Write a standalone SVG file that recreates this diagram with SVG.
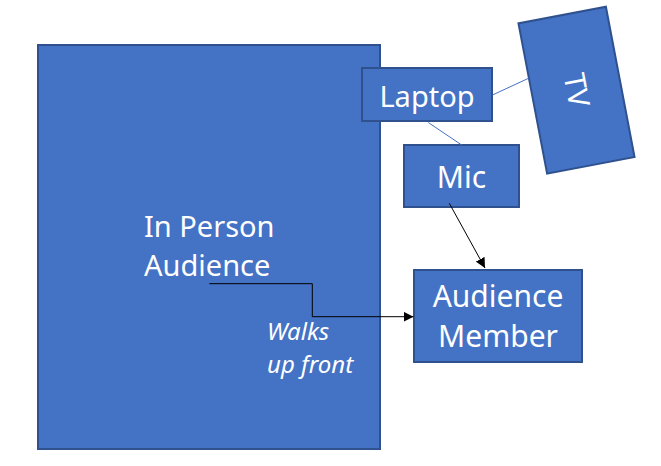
<svg xmlns="http://www.w3.org/2000/svg" width="661" height="466" viewBox="0 0 661 466">
<defs>
<style>
.box{fill:#4472C4;stroke:#2F528F;stroke-width:2}
.t{font-family:"Noto Sans","Open Sans",sans-serif;fill:#fff}
.thin{stroke:#4472C4;stroke-width:1;fill:none}
.arr{stroke:#000;stroke-width:1;fill:none}
</style>
<marker id="ah" viewBox="0 0 10 10" refX="10" refY="5" markerWidth="10" markerHeight="10" markerUnits="userSpaceOnUse" orient="auto">
<path d="M0,0 L10,5 L0,10 z" fill="#000"/>
</marker>
</defs>
<rect width="661" height="466" fill="#fff"/>
<g id="audience">
<rect class="box" x="38" y="45" width="342" height="404"/>
<text class="t" x="144" y="237" font-size="29">In Person</text>
<text class="t" x="144" y="276" font-size="29">Audience</text>
</g>
<g id="laptop">
<rect class="box" x="362" y="68" width="130" height="53"/>
<text class="t" x="427" y="106.5" font-size="29" text-anchor="middle">Laptop</text>
</g>
<g id="tv">
<rect class="box" x="-44.5" y="-76.5" width="89" height="153" transform="translate(576.5,90.2) rotate(-10.8)"/>
<text class="t" font-size="29" text-anchor="middle" transform="translate(576.5,90.2) rotate(79.2)" y="10">TV</text>
</g>
<g id="mic">
<rect class="box" x="404" y="145" width="115" height="62"/>
<text class="t" x="461.5" y="187.5" font-size="30" text-anchor="middle">Mic</text>
</g>
<g id="member">
<rect class="box" x="414" y="270" width="168" height="92"/>
<text class="t" x="498" y="307" font-size="30" text-anchor="middle">Audience</text>
<text class="t" x="498" y="347" font-size="30" text-anchor="middle">Member</text>
</g>
<g id="connectors">
<line class="thin" x1="492.5" y1="95" x2="528.5" y2="78.3"/>
<line class="thin" x1="428.3" y1="122.5" x2="461.7" y2="145"/>
<line class="arr" x1="449.3" y1="203.3" x2="485" y2="268" marker-end="url(#ah)"/>
<polyline class="arr" points="209.3,283.7 312.3,283.7 312.3,316.7 413.5,316.7" marker-end="url(#ah)"/>
</g>
<g id="label">
<text class="t" x="267" y="340" font-size="24" font-style="italic">Walks</text>
<text class="t" x="267" y="373" font-size="24" font-style="italic">up front</text>
</g>
</svg>
